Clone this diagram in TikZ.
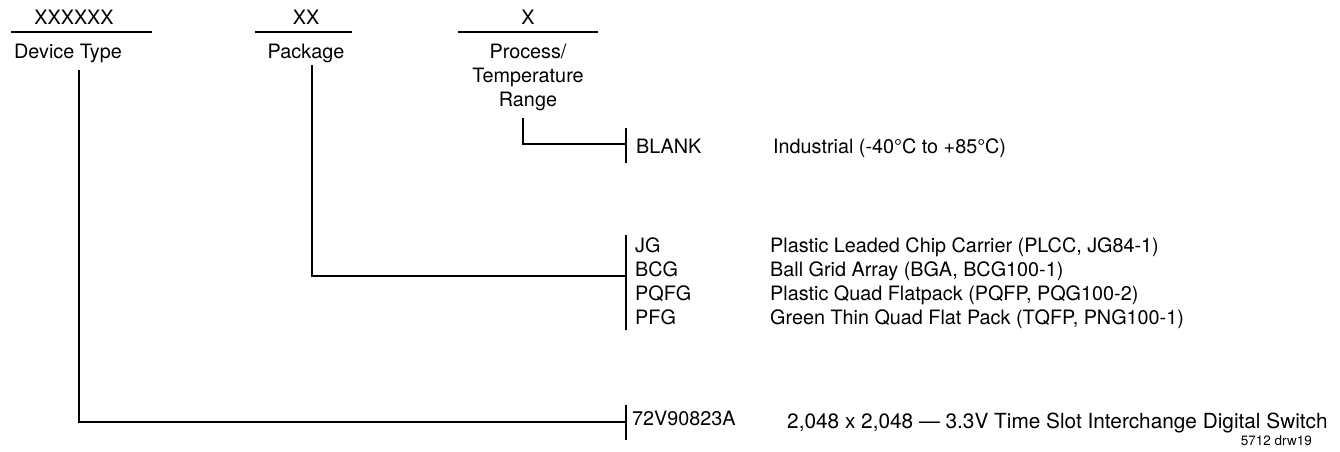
\documentclass[tikz,border=0pt]{standalone}
\usepackage{fontspec}
\setmainfont{TeX Gyre Heros}
\begin{document}
\begin{tikzpicture}[x=1pt,y=-1pt,
  lbl/.style={inner sep=0pt,font=\fontsize{19.8}{24}\selectfont},
  ttl/.style={inner sep=0pt,font=\fontsize{20.8}{24}\selectfont},
  small/.style={inner sep=0pt,font=\fontsize{13.5}{16}\selectfont},
  ln/.style={line width=2pt},
  ld/.style={line width=2pt}]
\useasboundingbox (0,0) rectangle (1340,451);
% top fields
\draw[ln] (11,32) -- (152,32);
\draw[ln] (255,32) -- (352,32);
\draw[ln] (458,32) -- (598,32);
\node[lbl,anchor=base] (xd) at (74,24) {XXXXXX};
\node[lbl,anchor=base] (xp) at (306,24) {XX};
\node[lbl,anchor=base] (xt) at (528,24) {X};
\node[lbl,anchor=base] (dt) at (68,58) {Device Type};
\node[lbl,anchor=base] (pk) at (306,58) {Package};
\node[lbl,align=center,anchor=north] (pt) at (528,44) {Process/\\Temperature\\Range};
% anchor coordinates
\coordinate (dtop) at (79,70);
\coordinate (ptop) at (312,65);
\coordinate (ttop) at (523,118);
% ticks
\coordinate (tb1) at (626,128); \coordinate (tb2) at (626,163);
\coordinate (pb1) at (626,235); \coordinate (pb2) at (626,330);
\coordinate (db1) at (626,405); \coordinate (db2) at (626,440);
\draw[ld] (tb1) -- (tb2);
\draw[ld] (pb1) -- (pb2);
\draw[ld] (db1) -- (db2);
\draw[ld] (ttop) |- (626,144);
\draw[ld] (ptop) |- (626,276);
\draw[ld] (dtop) |- (626,422);
% options
\node[lbl,anchor=base west] (blank) at (636,153) {BLANK};
\node[lbl,anchor=base west] (ind) at (773,153) {Industrial (-40°C to +85°C)};
\node[lbl,anchor=base west] (jg) at (635,252) {JG};
\node[lbl,anchor=base west] (bcg) at (635,276) {BCG};
\node[lbl,anchor=base west] (pqfg) at (635,300) {PQFG};
\node[lbl,anchor=base west] (pfg) at (635,324) {PFG};
\node[lbl,anchor=base west] (jgd) at (770,252) {Plastic Leaded Chip Carrier (PLCC, JG84-1)};
\node[lbl,anchor=base west] (bcgd) at (770,276) {Ball Grid Array (BGA, BCG100-1)};
\node[lbl,anchor=base west] (pqfgd) at (770,300) {Plastic Quad Flatpack (PQFP, PQG100-2)};
\node[lbl,anchor=base west] (pfgd) at (770,324) {Green Thin Quad Flat Pack (TQFP, PNG100-1)};
\node[lbl,anchor=base west] (dev) at (632,425) {72V90823A};
\node[ttl,anchor=base west] (devd) at (787,428) {2,048 x 2,048 --- 3.3V Time Slot Interchange Digital Switch};
\node[small,anchor=base east] (drw) at (1312,445) {5712 drw19};
\end{tikzpicture}
\end{document}
